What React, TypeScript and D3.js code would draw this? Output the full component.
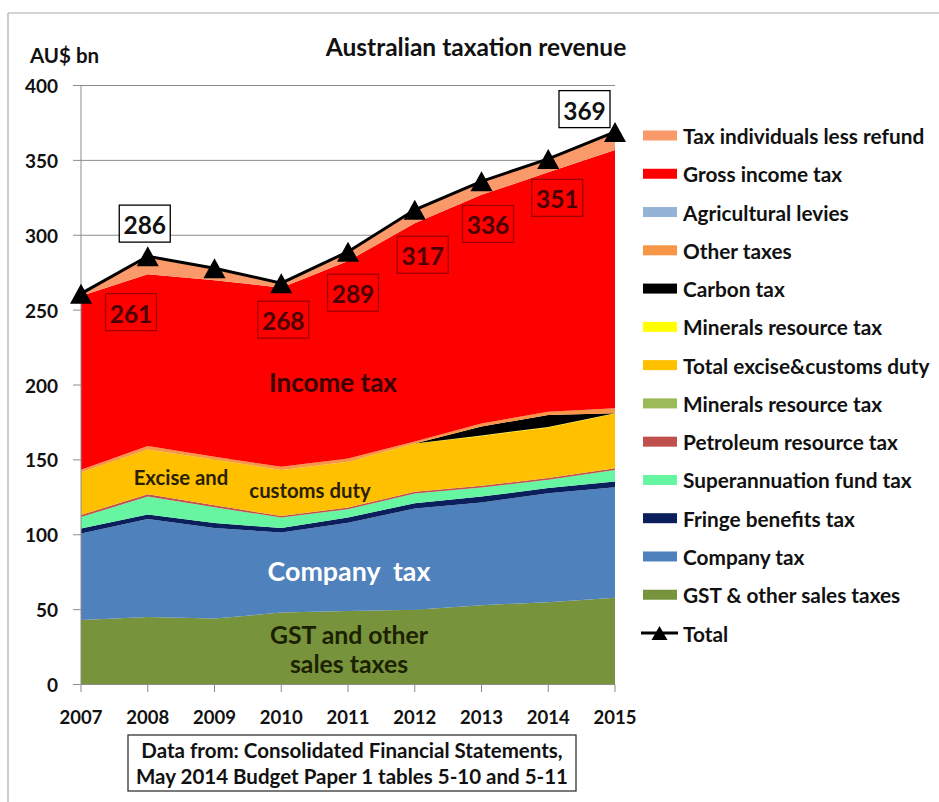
import React from "react";
import * as d3 from "d3";

const years = [2007, 2008, 2009, 2010, 2011, 2012, 2013, 2014, 2015];
const gstSales = [43, 45, 44, 48, 49, 50, 53, 55, 58];
const companyTax = [57.8, 65.5, 60.5, 53.5, 59, 67.5, 68.5, 72.7, 73.7];
const fringeBenefits = [3.3, 3, 3.3, 3, 3.5, 3.6, 4, 3.5, 3.8];
const superFund = [7.7, 12, 10.5, 7, 5.5, 6.4, 6, 5.5, 7.7];
const petroleumResource = [1.4, 1.6, 1.4, 1, 1.2, 1.2, 1.2, 1.2, 1.2];
const mineralsGreen = [0, 0, 0, 0, 0, 0, 0, 0, 0];
const exciseCustoms = [28.5, 29.9, 30.6, 30.7, 30.5, 32.3, 33.3, 33.8, 36.6];
const mineralsYellow = [0, 0, 0, 0, 0, 0, 0.3, 0.3, 0.2];
const carbonTax = [0, 0, 0, 0, 0, 0, 6, 8, 0];
const otherTaxes = [1.7, 2.3, 1.8, 2.2, 2.3, 1.2, 2, 2.2, 3.2];
const agriculturalLevies = [0, 0, 0, 0, 0, 0, 0, 0, 0];
const grossIncome = [116.1, 114.7, 117.9, 119.6, 131.8, 145.8, 152.7, 159.8, 172.6];
const individualsLessRefund = [1.5, 12, 8, 3, 6, 9, 9, 9, 12];
const totals = [261, 286, 278, 268, 289, 317, 336, 351, 369];
const yTicks = [0, 50, 100, 150, 200, 250, 300, 350, 400];

const seriesNames = [
  "GST & other sales taxes",
  "Company tax",
  "Fringe benefits tax",
  "Superannuation fund tax",
  "Petroleum resource tax",
  "Minerals resource tax",
  "Total excise&customs duty",
  "Minerals resource tax",
  "Carbon tax",
  "Other taxes",
  "Agricultural levies",
  "Gross income tax",
  "Tax individuals less refund",
];
const seriesValues = [
  gstSales, companyTax, fringeBenefits, superFund, petroleumResource, mineralsGreen,
  exciseCustoms, mineralsYellow, carbonTax, otherTaxes, agriculturalLevies, grossIncome,
  individualsLessRefund,
];
const seriesColors = [
  "#77933C", "#4F81BD", "#0A1F5C", "#66F5A0", "#C0504D", "#9BBB59",
  "#FFC000", "#FFFF00", "#000000", "#F79646", "#95B3D7", "#FF0000", "#FA9A6A",
];

// annotation layout: index into years, offset of box centre from data point (px), style
const labelLayout = [
  { i: 0, dx: 50, dy: 18.5, white: false },
  { i: 1, dx: -3, dy: -32.6, white: true },
  { i: 3, dx: 2, dy: 36.5, white: false },
  { i: 4, dx: 5, dy: 41, white: false },
  { i: 5, dx: 8, dy: 45, white: false },
  { i: 6, dx: 6.5, dy: 42.6, white: false },
  { i: 7, dx: 9, dy: 39, white: false },
  { i: 8, dx: -30.5, dy: -22.8, white: true },
];

const FONT = "Lato, 'Open Sans', sans-serif";

export default function App() {
  const W = 939, H = 802;
  const x = d3.scaleLinear().domain([2007, 2015]).range([81, 615]);
  const y = d3.scaleLinear().domain([0, 400]).range([684.5, 85.5]);

  const keys = seriesNames.map((_, i) => "s" + i);
  const rows = years.map((yr, j) => {
    const r: any = { year: yr };
    keys.forEach((k, i) => (r[k] = seriesValues[i][j]));
    return r;
  });
  const stacked = d3.stack().keys(keys)(rows as any);
  const area = d3
    .area<any>()
    .x((d) => x(d.data.year))
    .y0((d) => y(d[0]))
    .y1((d) => y(d[1]));
  const line = d3
    .line<number>()
    .x((_, i) => x(years[i]))
    .y((d) => y(d));

  const tri = (cx: number, cy: number, w = 22, h = 20) =>
    `M${cx},${cy - h / 2}L${cx + w / 2},${cy + h / 2}L${cx - w / 2},${cy + h / 2}Z`;

  const legendOrder = seriesNames.map((_, i) => i).reverse();
  const legY0 = 135.5, legStep = 38.27;
  const LEG_FS = 20.8;

  return (
    <svg
      width={W}
      height={H}
      style={{ position: "absolute", left: 0, top: 0, background: "#fff" }}
      fontFamily={FONT}
    >
      <rect x={0} y={0} width={W} height={H} fill="#fff" />
      {/* frame */}
      <line x1={8} y1={13} x2={W} y2={13} stroke="#aaa" strokeWidth={1.2} />
      <line x1={8} y1={13} x2={8} y2={H} stroke="#aaa" strokeWidth={1.2} />

      {/* title */}
      <text x={476} y={46} textAnchor="middle" dominantBaseline="central" fontSize={24.5} fontWeight={700} fill="#111">
        Australian taxation revenue
      </text>
      <text x={30} y={55} dominantBaseline="central" fontSize={20.5} fontWeight={700} fill="#111">
        AU$ bn
      </text>

      {/* gridlines */}
      {yTicks.map((t) => (
        <g key={t}>
          <line x1={73} x2={615} y1={y(t)} y2={y(t)} stroke="#8c8c8c" strokeWidth={1} />
          <text x={58} y={y(t)} textAnchor="end" dominantBaseline="central" fontSize={19} fontWeight={700} fill="#111">
            {t}
          </text>
        </g>
      ))}

      {/* areas */}
      {stacked.map((s, i) => (
        <path key={i} d={area(s as any) || ""} fill={seriesColors[i]} stroke="none" />
      ))}

      {/* axes */}
      <line x1={81} x2={81} y1={85.5} y2={684.5} stroke="#8c8c8c" />
      <line x1={81} x2={615} y1={684.5} y2={684.5} stroke="#8c8c8c" />
      {years.map((yr) => (
        <g key={yr}>
          <line x1={x(yr)} x2={x(yr)} y1={684.5} y2={692} stroke="#8c8c8c" />
          <text x={x(yr)} y={717} textAnchor="middle" dominantBaseline="central" fontSize={18.5} fontWeight={700} fill="#111">
            {yr}
          </text>
        </g>
      ))}

      {/* area labels */}
      <text x={333} y={382} textAnchor="middle" dominantBaseline="central" fontSize={26} fontWeight={700} fill="#3a0000">
        Income tax
      </text>
      <text x={181} y={477} textAnchor="middle" dominantBaseline="central" fontSize={20.3} fontWeight={700} fill="#2a1f00">
        Excise and
      </text>
      <text x={310} y={490} textAnchor="middle" dominantBaseline="central" fontSize={20.3} fontWeight={700} fill="#2a1f00">
        customs duty
      </text>
      <text x={349} y={571} textAnchor="middle" dominantBaseline="central" fontSize={26.8} fontWeight={700} fill="#fff" style={{ whiteSpace: "pre" }}>
        {"Company  tax"}
      </text>
      <text x={349} y={634} textAnchor="middle" dominantBaseline="central" fontSize={24.8} fontWeight={700} fill="#1c2200">
        GST and other
      </text>
      <text x={349} y={663} textAnchor="middle" dominantBaseline="central" fontSize={24.8} fontWeight={700} fill="#1c2200">
        sales taxes
      </text>

      {/* total line */}
      <path d={line(totals) || ""} fill="none" stroke="#000" strokeWidth={3} />
      {totals.map((t, i) => (
        <path key={i} d={tri(x(years[i]), y(t))} fill="#000" />
      ))}

      {/* total labels */}
      {labelLayout.map((l) => {
        const cx = x(years[l.i]) + l.dx;
        const cy = y(totals[l.i]) + l.dy;
        return (
          <g key={l.i}>
            <rect
              x={cx - 25.5}
              y={cy - 18.5}
              width={51}
              height={37}
              fill={l.white ? "#fff" : "#FF0000"}
              stroke={l.white ? "#000" : "#A00000"}
              strokeWidth={1.3}
            />
            <text x={cx} y={cy + 1} textAnchor="middle" dominantBaseline="central" fontSize={24.5} fontWeight={700} fill={l.white ? "#111" : "#4a0000"}>
              {totals[l.i]}
            </text>
          </g>
        );
      })}

      {/* legend */}
      {legendOrder.map((si, k) => {
        const cy = legY0 + k * legStep;
        return (
          <g key={k}>
            <rect x={643} y={cy - 5} width={34} height={10} fill={seriesColors[si]} />
            <text x={683} y={cy} dominantBaseline="central" fontSize={LEG_FS} fontWeight={700} fill="#111">
              {seriesNames[si]}
            </text>
          </g>
        );
      })}
      {(() => {
        const cy = legY0 + seriesNames.length * legStep;
        return (
          <g>
            <line x1={641} x2={678} y1={cy} y2={cy} stroke="#000" strokeWidth={3} />
            <path d={tri(659.5, cy, 16, 14)} fill="#000" />
            <text x={683} y={cy} dominantBaseline="central" fontSize={LEG_FS} fontWeight={700} fill="#111">
              Total
            </text>
          </g>
        );
      })()}

      {/* source box */}
      <rect x={128} y={735} width={448} height={56} fill="#fff" stroke="#333" strokeWidth={1.3} />
      <text x={352} y={750} textAnchor="middle" dominantBaseline="central" fontSize={20.5} fontWeight={700} fill="#111">
        Data from: Consolidated Financial Statements,
      </text>
      <text x={352} y={776} textAnchor="middle" dominantBaseline="central" fontSize={20.5} fontWeight={700} fill="#111">
        May 2014 Budget Paper 1 tables 5-10 and 5-11
      </text>
    </svg>
  );
}
